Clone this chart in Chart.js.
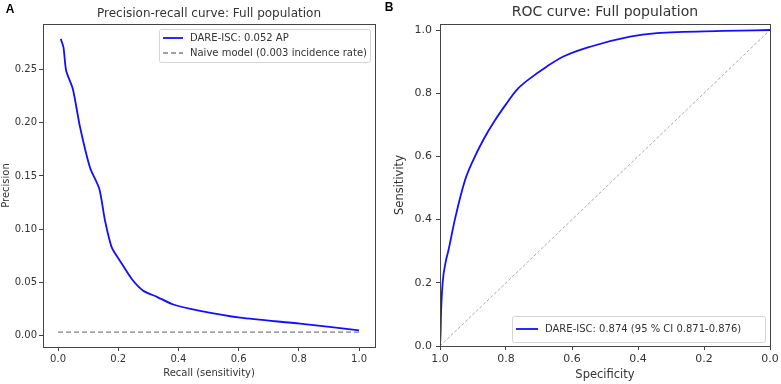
<!DOCTYPE html>
<html>
<head>
<meta charset="utf-8">
<script src="https://cdn.jsdelivr.net/npm/chart.js@4.4.1/dist/chart.umd.min.js"></script>
<style>
  html, body { margin: 0; padding: 0; background: #fff; }
  #wrap { position: relative; width: 781px; height: 384px; }
  canvas { position: absolute; top: 0; }
  #prChart { left: 0; }
  #rocChart { left: 380px; }
</style>
</head>
<body>
<div id="wrap">
  <canvas id="prChart" width="380" height="384"></canvas>
  <canvas id="rocChart" width="401" height="384"></canvas>
</div>
<script>
// ---- Panel A: precision-recall data ----
const prRecall    = [0.009, 0.018, 0.027, 0.049, 0.073, 0.106, 0.137, 0.156, 0.178, 0.206, 0.245, 0.283, 0.330, 0.383, 0.472, 0.605, 0.804, 1.000];
const prPrecision = [0.279, 0.271, 0.249, 0.232, 0.196, 0.158, 0.138, 0.108, 0.083, 0.070, 0.053, 0.042, 0.036, 0.029, 0.023, 0.0166, 0.011, 0.0047];
const naiveRecall    = [0, 1];
const naivePrecision = [0.003, 0.003];
const prXTicks = [0, 0.2, 0.4, 0.6, 0.8, 1.0];
const prYTicks = [0, 0.05, 0.10, 0.15, 0.20, 0.25];

// ---- Panel B: ROC data ----
const rocSpecificity = [1.000, 0.998, 0.997, 0.992, 0.982, 0.975, 0.955, 0.924, 0.899, 0.869, 0.833, 0.798, 0.768, 0.727, 0.677, 0.626, 0.545, 0.424, 0.343, 0.141, 0.000];
const rocSensitivity = [0.000, 0.050, 0.100, 0.200, 0.270, 0.300, 0.400, 0.525, 0.589, 0.652, 0.715, 0.768, 0.810, 0.847, 0.884, 0.916, 0.947, 0.979, 0.990, 0.997, 1.000];
const chanceSpecificity = [1, 0];
const chanceSensitivity = [0, 1];
const rocTicks = [0, 0.2, 0.4, 0.6, 0.8, 1.0];

const FONT = "'DejaVu Sans', sans-serif";
const INK = '#333';

function pts(xs, ys) {
  return xs.map((x, i) => ({ x: x, y: ys[i] }));
}

// frame, title, panel letter and boxed legend, matplotlib-ish
const decor = {
  id: 'decor',
  afterDraw(chart, args, o) {
    const ctx = chart.ctx;
    const a = chart.chartArea;
    ctx.save();

    // axes frame
    ctx.strokeStyle = '#444';
    ctx.lineWidth = 1;
    ctx.strokeRect(Math.round(a.left) + 0.5, Math.round(a.top) + 0.5,
                   Math.round(a.right - a.left), Math.round(a.bottom - a.top));

    // title
    ctx.fillStyle = INK;
    ctx.font = o.titleSize + 'px ' + FONT;
    ctx.textAlign = 'center';
    ctx.textBaseline = 'middle';
    ctx.fillText(o.title, (a.left + a.right) / 2, o.titleY);

    // panel letter
    ctx.fillStyle = '#000';
    ctx.font = 'bold 12px "Liberation Sans", Arial, sans-serif';
    ctx.fillText(o.letter, o.letterX, o.letterY);

    // legend
    const items = o.legendItems.map(i => chart.data.datasets[i]);
    const rowH = o.legendRowH;
    const boxH = items.length * rowH + o.legendPadV * 2;
    const boxX = a.right - o.legendRight - o.legendW;
    const boxY = o.legendAtBottom ? a.bottom - o.legendBottom - boxH : a.top + o.legendTop;
    ctx.fillStyle = 'rgba(255,255,255,0.85)';
    ctx.strokeStyle = '#d4d4d4';
    ctx.lineWidth = 1;
    ctx.beginPath();
    ctx.roundRect(boxX + 0.5, boxY + 0.5, o.legendW, boxH, 2);
    ctx.fill();
    ctx.stroke();
    ctx.font = '10px ' + FONT;
    items.forEach((ds, k) => {
      const cy = boxY + o.legendPadV + rowH * (k + 0.5);
      ctx.strokeStyle = ds.borderColor;
      ctx.lineWidth = ds.borderWidth;
      ctx.setLineDash(ds.borderDash || []);
      ctx.beginPath();
      ctx.moveTo(boxX + 4, cy);
      ctx.lineTo(boxX + 4 + o.sampleW, cy);
      ctx.stroke();
      ctx.setLineDash([]);
      ctx.fillStyle = INK;
      ctx.textAlign = 'left';
      ctx.fillText(ds.label, boxX + 4 + o.sampleW + 7, cy);
    });
    ctx.restore();
  }
};

function axisCommon(ticksList, digits, size, pad, fixedSize, isX) {
  return {
    type: 'linear',
    afterBuildTicks: s => { s.ticks = ticksList.map(v => ({ value: v })); },
    afterFit: s => { if (isX) s.height = fixedSize; else s.width = fixedSize; },
    ticks: {
      color: INK,
      font: { family: FONT, size: size },
      padding: pad,
      autoSkip: false,
      maxRotation: 0,
      callback: v => Number(v).toFixed(digits)
    },
    grid: { drawOnChartArea: false, drawTicks: true, tickLength: 4, color: '#444' },
    border: { display: false }
  };
}

// ---------------- Panel A ----------------
const prX = axisCommon(prXTicks, 1, 10, 2, 37, true);
prX.min = -0.05; prX.max = 1.053;
prX.title = { display: true, text: 'Recall (sensitivity)', color: INK, font: { family: FONT, size: 10 }, padding: { top: 0, bottom: 5 } };
const prY = axisCommon(prYTicks, 2, 10, 2, 43, false);
prY.min = -0.011; prY.max = 0.293;
prY.title = { display: true, text: 'Precision', color: INK, font: { family: FONT, size: 10 }, padding: { top: 0, bottom: 0 } };

new Chart(document.getElementById('prChart'), {
  type: 'line',
  data: {
    datasets: [
      { label: 'DARE-ISC: 0.052 AP', data: pts(prRecall, prPrecision), borderColor: '#1010ff', borderWidth: 1.8, pointRadius: 0, tension: 0.25, fill: false },
      { label: 'Naive model (0.003 incidence rate)', data: pts(naiveRecall, naivePrecision), borderColor: '#808080', borderWidth: 1.3, borderDash: [5, 3], pointRadius: 0, fill: false }
    ]
  },
  options: {
    responsive: false,
    animation: false,
    layout: { padding: { top: 24, right: 5, left: 0, bottom: 0 } },
    scales: { x: prX, y: prY },
    plugins: {
      legend: { display: false },
      tooltip: { enabled: false },
      decor: {
        title: 'Precision-recall curve: Full population', titleSize: 12, titleY: 14,
        letter: 'A', letterX: 10, letterY: 10,
        legendItems: [0, 1], legendRowH: 15, legendPadV: 1.5, legendW: 211, legendRight: 5, legendTop: 5,
        legendAtBottom: false, sampleW: 20
      }
    }
  },
  plugins: [decor]
});

// ---------------- Panel B ----------------
const rocX = axisCommon(rocTicks, 1, 11, 3, 38, true);
rocX.min = 0; rocX.max = 1; rocX.reverse = true;
rocX.title = { display: true, text: 'Specificity', color: INK, font: { family: FONT, size: 11.5 }, padding: { top: 0, bottom: 2 } };
const rocY = axisCommon(rocTicks, 1, 11, 4, 60, false);
rocY.min = 0; rocY.max = 1.019;
rocY.title = { display: true, text: 'Sensitivity', color: INK, font: { family: FONT, size: 11.5 }, padding: { top: 13, bottom: 0 } };

new Chart(document.getElementById('rocChart'), {
  type: 'line',
  data: {
    datasets: [
      { label: 'DARE-ISC: 0.874 (95 % CI 0.871-0.876)', data: pts(rocSpecificity, rocSensitivity), borderColor: '#1010ff', borderWidth: 1.8, pointRadius: 0, cubicInterpolationMode: 'monotone', fill: false },
      { label: 'Chance', data: pts(chanceSpecificity, chanceSensitivity), borderColor: '#a0a0a0', borderWidth: 0.9, borderDash: [3, 2], pointRadius: 0, fill: false }
    ]
  },
  options: {
    responsive: false,
    animation: false,
    layout: { padding: { top: 24, right: 11, left: 0, bottom: 0 } },
    scales: { x: rocX, y: rocY },
    plugins: {
      legend: { display: false },
      tooltip: { enabled: false },
      decor: {
        title: 'ROC curve: Full population', titleSize: 14, titleY: 12,
        letter: 'B', letterX: 9, letterY: 8,
        legendItems: [0], legendRowH: 20, legendPadV: 3, legendW: 253, legendRight: 5, legendBottom: 4,
        legendAtBottom: true, sampleW: 22
      }
    }
  },
  plugins: [decor]
});
</script>
</body>
</html>
